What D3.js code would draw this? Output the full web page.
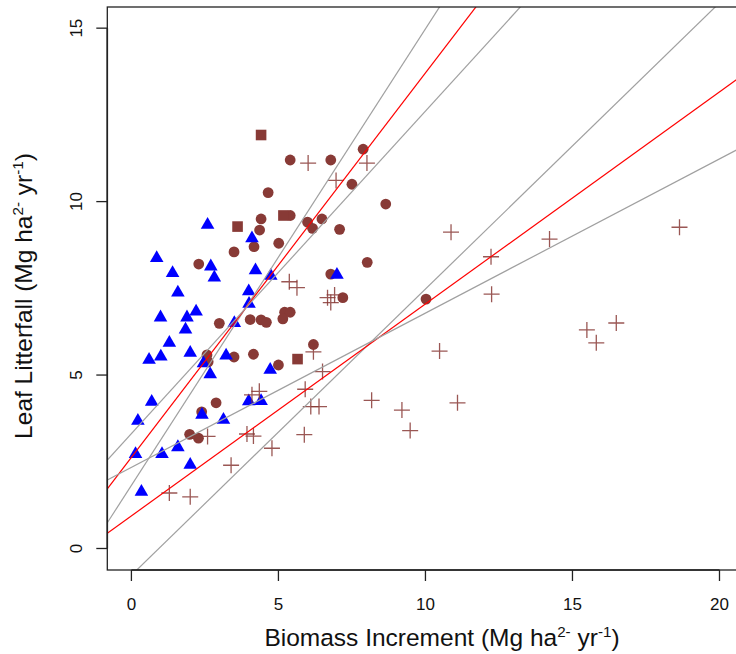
<!DOCTYPE html>
<html>
<head>
<meta charset="utf-8">
<script src="https://cdn.jsdelivr.net/npm/d3@7/dist/d3.min.js"></script>
<style>
html,body{margin:0;padding:0;background:#fff;}
svg{display:block;font-family:"Liberation Sans",Arial,Helvetica,sans-serif;}
</style>
</head>
<body>
<svg id="chart" width="736" height="654"></svg>
<script>
// ---- data ----
const triangleX = [2.59,4.10,0.86,2.70,1.40,2.82,4.22,4.74,6.99,1.58,3.99,4.00,2.20,0.99,1.89,3.50,1.84,1.29,0.60,1.00,2.00,2.45,2.68,3.22,4.72,0.69,0.22,2.40,3.13,3.99,4.41,0.14,1.04,1.58,2.00,0.34];
const triangleY = [9.33,8.94,8.37,8.13,7.94,7.81,8.02,7.86,7.89,7.38,7.41,7.05,6.83,6.66,6.66,6.50,6.31,5.93,5.44,5.53,5.64,5.34,5.02,5.56,5.15,4.23,3.68,3.85,3.71,4.24,4.25,2.72,2.72,2.92,2.41,1.63];

const circleX = [5.40,6.78,7.88,7.50,4.65,8.65,4.41,5.40,5.99,6.48,6.16,7.08,4.36,4.17,5.01,3.49,2.29,8.02,6.78,7.19,5.21,5.40,5.15,4.04,4.41,4.59,2.99,6.19,2.57,2.61,3.49,4.15,5.00,2.39,2.88,1.98,2.28,10.02];
const circleY = [11.20,11.20,11.51,10.50,10.26,9.93,9.50,9.60,9.41,9.50,9.23,9.20,9.18,8.70,8.80,8.55,8.20,8.25,7.91,7.23,6.81,6.81,6.62,6.60,6.59,6.52,6.49,5.88,5.58,5.38,5.52,5.60,5.29,3.94,4.20,3.29,3.18,7.19];

const squareX = [4.41,3.61,5.17,5.65];
const squareY = [11.92,9.28,9.60,5.46];

const crossX = [6.01,8.01,6.96,5.37,5.63,6.67,6.91,6.78,6.19,6.50,5.91,6.10,6.38,8.17,9.20,9.48,4.10,4.35,3.93,4.15,2.59,4.78,5.88,3.39,1.29,2.00,10.87,14.22,12.23,18.64,12.25,10.48,15.49,15.81,16.49,11.09];
const crossY = [11.11,11.11,10.61,7.69,7.52,7.23,7.31,7.09,5.67,5.10,4.59,4.09,4.09,4.27,3.99,3.40,4.43,4.53,3.30,3.24,3.23,2.89,3.28,2.40,1.60,1.49,9.12,8.92,8.41,9.26,7.33,5.69,6.30,5.93,6.50,4.20];

// fitted lines (y = a + b x): regression fit and its two bounds, for two groups
const lineKind      = ["bound","fit","bound","bound","fit","bound"];
const lineIntercept = [1.82, 2.63, 3.31, -0.77, 0.94, 2.34];
const lineSlope     = [1.316,1.108,0.930, 0.825, 0.611,0.4446];

const xTicks = [0,5,10,15,20];
const yTicks = [0,5,10,15];
const xDomain = [-0.82, 22.5];
const yDomain = [-0.62, 15.61];

// ---- drawing ----
const svg = d3.select("#chart");
const plot = {left:107.3, right:793, top:7, bottom:570};
const x = d3.scaleLinear().domain(xDomain).range([plot.left, plot.right]);
const y = d3.scaleLinear().domain(yDomain).range([plot.bottom, plot.top]);

const brown = "#883a36";
const blue = "#0000ff";

svg.append("defs").append("clipPath").attr("id","pc")
  .append("rect").attr("x",plot.left).attr("y",plot.top)
  .attr("width",plot.right-plot.left).attr("height",plot.bottom-plot.top);

const g = svg.append("g").attr("clip-path","url(#pc)");

// circles
g.selectAll(".c").data(circleX.map((d,i)=>[d,circleY[i]])).join("circle")
  .attr("cx",d=>x(d[0])).attr("cy",d=>y(d[1])).attr("r",5.4).attr("fill",brown);
// squares
g.selectAll(".s").data(squareX.map((d,i)=>[d,squareY[i]])).join("rect")
  .attr("x",d=>x(d[0])-5.3).attr("y",d=>y(d[1])-5.3).attr("width",10.6).attr("height",10.6).attr("fill",brown);
// triangles
const tri = d3.symbol().type(d3.symbolTriangle).size(80);
g.selectAll(".t").data(triangleX.map((d,i)=>[d,triangleY[i]])).join("path")
  .attr("d",tri).attr("transform",d=>`translate(${x(d[0])},${y(d[1])})`).attr("fill",blue);
// crosses
g.selectAll(".x").data(crossX.map((d,i)=>[d,crossY[i]])).join("path")
  .attr("d","M-8,0H8M0,-8V8").attr("transform",d=>`translate(${x(d[0])},${y(d[1])})`)
  .attr("stroke",brown).attr("stroke-width",1.3).attr("stroke-opacity",0.85).attr("fill","none");

// lines
const lineStyle = {fit:{c:"#ff0000"}, bound:{c:"#a0a0a0"}};
g.selectAll(".l").data(lineKind.map((k,i)=>({k,a:lineIntercept[i],b:lineSlope[i]}))).join("line")
  .attr("x1",x(xDomain[0])).attr("x2",x(xDomain[1]))
  .attr("y1",d=>y(d.a+d.b*xDomain[0])).attr("y2",d=>y(d.a+d.b*xDomain[1]))
  .attr("stroke",d=>lineStyle[d.k].c).attr("stroke-width",1.2);

// box
svg.append("rect").attr("x",plot.left).attr("y",plot.top)
  .attr("width",plot.right-plot.left).attr("height",plot.bottom-plot.top)
  .attr("fill","none").attr("stroke","#222").attr("stroke-width",1.3);

// x axis
const xa = svg.append("g").attr("transform",`translate(0,${plot.bottom})`);
xa.append("line").attr("x1",x(xTicks[0])).attr("x2",x(xTicks[xTicks.length-1]))
  .attr("stroke","#222").attr("stroke-width",1.6);
xa.selectAll(".tk").data(xTicks).join("line")
  .attr("x1",d=>x(d)).attr("x2",d=>x(d)).attr("y1",0).attr("y2",11)
  .attr("stroke","#222").attr("stroke-width",1.3);
xa.selectAll(".tl").data(xTicks).join("text")
  .attr("x",d=>x(d)).attr("y",40).attr("text-anchor","middle")
  .attr("font-size",17).attr("fill","#111").text(d=>d);

// y axis
const ya = svg.append("g").attr("transform",`translate(${plot.left},0)`);
ya.append("line").attr("y1",y(yTicks[0])).attr("y2",y(yTicks[yTicks.length-1]))
  .attr("stroke","#222").attr("stroke-width",1.6);
ya.selectAll(".tk").data(yTicks).join("line")
  .attr("y1",d=>y(d)).attr("y2",d=>y(d)).attr("x1",0).attr("x2",-11)
  .attr("stroke","#222").attr("stroke-width",1.3);
ya.selectAll(".tl").data(yTicks).join("text")
  .attr("transform",d=>`translate(-25,${y(d)}) rotate(-90)`).attr("text-anchor","middle")
  .attr("font-size",17).attr("fill","#111").text(d=>d);

// titles
function title(sel, main){
  sel.append("tspan").text(main + " (Mg ha");
  sel.append("tspan").attr("font-size","0.62em").attr("dy",-9).text("2-");
  sel.append("tspan").attr("dy",9).text(" yr");
  sel.append("tspan").attr("font-size","0.62em").attr("dy",-9).text("-1");
  sel.append("tspan").attr("dy",9).text(")");
}
const xt = svg.append("text").attr("x",442).attr("y",646).attr("text-anchor","middle")
  .attr("font-size",24.5).attr("fill","#111");
title(xt,"Biomass Increment");
const yt = svg.append("text").attr("transform","translate(32,296) rotate(-90)").attr("text-anchor","middle")
  .attr("font-size",24.5).attr("fill","#111");
title(yt,"Leaf Litterfall");
</script>
</body>
</html>
